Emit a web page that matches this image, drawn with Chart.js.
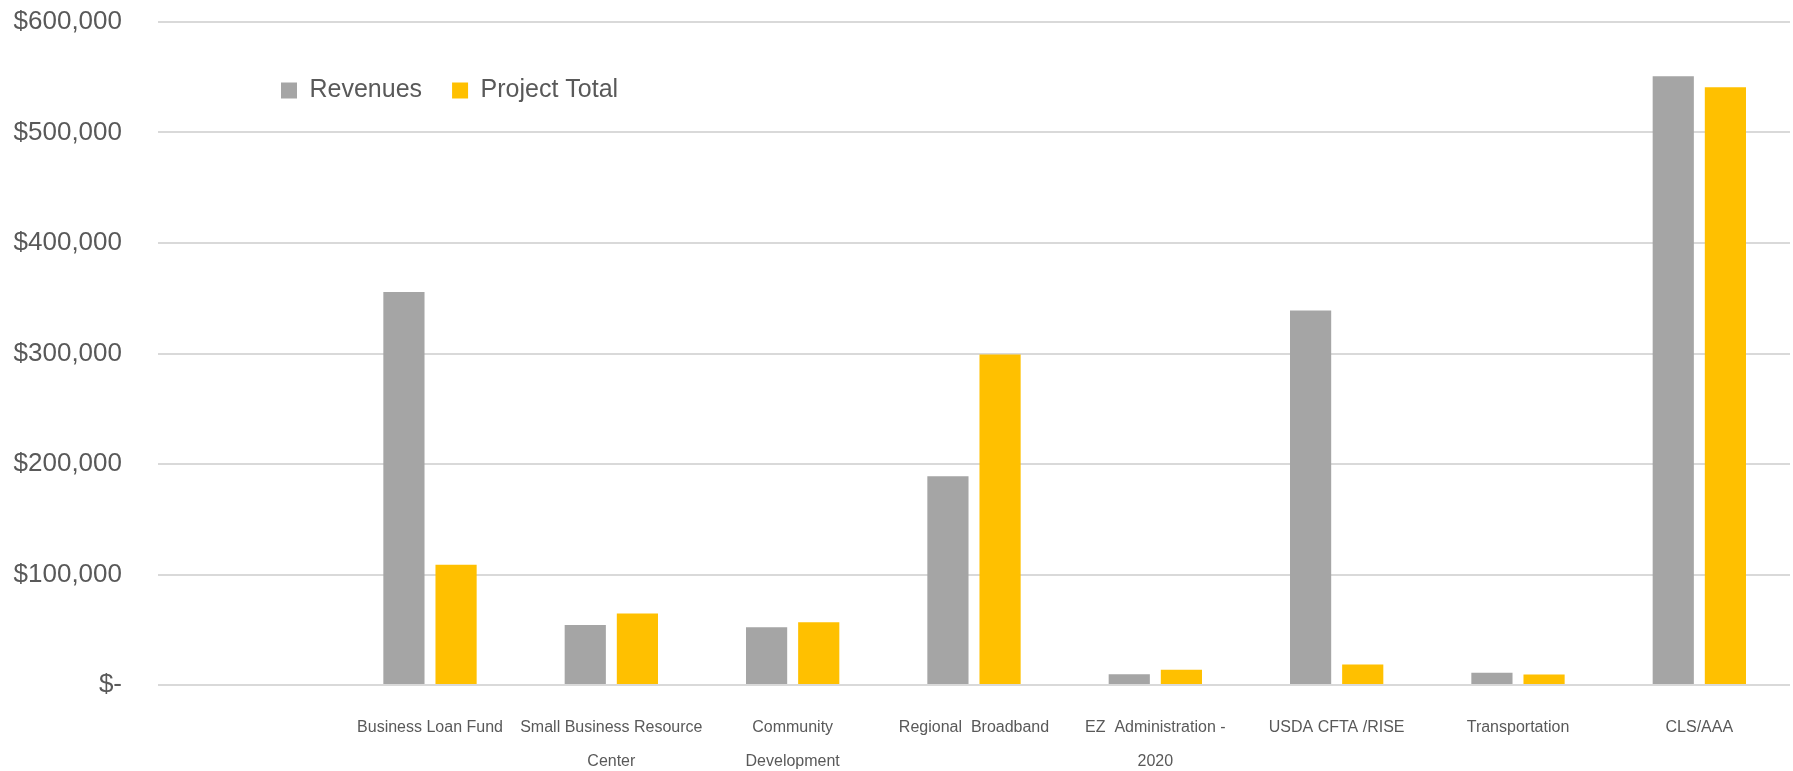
<!DOCTYPE html>
<html>
<head>
<meta charset="utf-8">
<script src="https://cdn.jsdelivr.net/npm/chart.js@4/dist/chart.umd.min.js"></script>
<style>
  html, body { margin: 0; padding: 0; background: #fff; }
  #wrap { width: 1793px; height: 771px; position: relative; }
</style>
</head>
<body>
<div id="wrap"><canvas id="chart"></canvas></div>
<script>
// categories (first slot is empty in the original sheet)
const categories = [
    '',
    'Business Loan Fund',
    ['Small Business Resource', 'Center'],
    ['Community', 'Development'],
    'Regional  Broadband',
    ['EZ  Administration -', '2020'],
    'USDA CFTA /RISE',
    'Transportation',
    'CLS/AAA'
];
const revenues = [null, 355700, 54300, 52200, 189000, 9700, 339000, 11000, 551000];
const projectTotal = [null, 108900, 64600, 56700, 299000, 13700, 18500, 9600, 541000];
const yTicks = [0, 100000, 200000, 300000, 400000, 500000, 600000];

const textColor = '#595959';
const fontFamily = '"Liberation Sans", Arial, sans-serif';

// legend sits inside the plot (upper left) laid out as one row
const legendMover = {
    id: 'legendMover',
    beforeLayout(chart) {
        const lg = chart.legend;
        if (lg && !lg._patched) {
            lg.isHorizontal = () => true;
            lg._patched = true;
        }
    },
    afterLayout(chart) {
        const lg = chart.legend;
        if (!lg) return;
        const w = lg.right - lg.left;
        const h = lg.bottom - lg.top;
        lg.left = 251;
        lg.right = lg.left + w;
        lg.top = 48;
        lg.bottom = lg.top + h;
    }
};

const ctx = document.getElementById('chart').getContext('2d');
new Chart(ctx, {
    type: 'bar',
    data: {
        labels: categories,
        datasets: [
            {
                label: 'Revenues',
                data: revenues,
                backgroundColor: '#A5A5A5',
                categoryPercentage: 0.575,
                barPercentage: 0.79
            },
            {
                label: 'Project Total',
                data: projectTotal,
                backgroundColor: '#FFC000',
                categoryPercentage: 0.575,
                barPercentage: 0.79
            }
        ]
    },
    options: {
        responsive: true,
        maintainAspectRatio: false,
        animation: false,
        layout: {
            padding: { left: 0, right: 3, top: 22, bottom: 0 }
        },
        plugins: {
            legend: {
                position: 'chartArea',
                align: 'start',
                labels: {
                    color: textColor,
                    font: { family: fontFamily, size: 25 },
                    boxWidth: 16,
                    boxHeight: 16,
                    padding: 30
                }
            },
            tooltip: { enabled: false }
        },
        scales: {
            x: {
                grid: { display: false, drawTicks: false },
                border: { display: false },
                ticks: {
                    color: textColor,
                    font: { family: fontFamily, size: 16, lineHeight: 2.125 },
                    padding: 26,
                    maxRotation: 0,
                    autoSkip: false
                },
                afterFit(scale) { scale.height = 86; }
            },
            y: {
                min: 0,
                max: 600000,
                afterBuildTicks(scale) {
                    scale.ticks = yTicks.map(v => ({ value: v }));
                },
                // invisible tick marks keep the labels away from the plot
                grid: {
                    color: '#D9D9D9',
                    lineWidth: 2,
                    drawTicks: true,
                    tickLength: 36,
                    tickColor: 'rgba(0,0,0,0)'
                },
                border: { display: false },
                ticks: {
                    color: textColor,
                    font: { family: fontFamily, size: 26 },
                    padding: 0,
                    callback: v => v === 0 ? '$-' : '$' + v.toLocaleString('en-US')
                },
                afterFit(scale) { scale.width = 158; }
            }
        }
    },
    plugins: [legendMover]
});
</script>
</body>
</html>
